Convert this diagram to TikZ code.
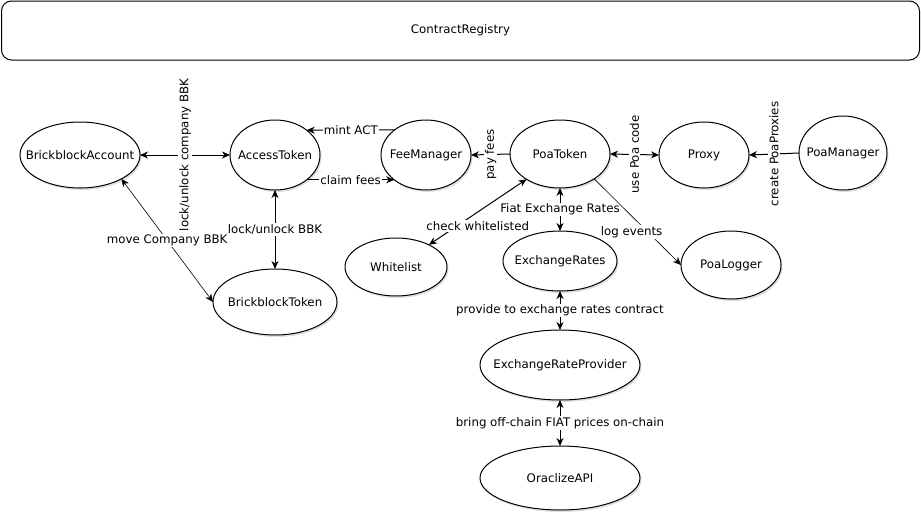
\documentclass[tikz,border=0pt]{standalone}
\usepackage{fontspec}
\setmainfont{DejaVu Sans}
\usetikzlibrary{arrows.meta,shapes.geometric,shadows}
\newcommand\ztext[1]{\makebox[0pt]{#1}}
\begin{document}
\begin{tikzpicture}[x=1pt,y=-1pt,
  every node/.style={font=\fontsize{11.8}{14}\selectfont, inner sep=0pt, outer sep=0pt},
  ell/.style={ellipse, draw, line width=1pt, fill=white,
    drop shadow={shadow xshift=1.5pt, shadow yshift=-2pt, opacity=0.25}},
  conn/.style={line width=1pt, -{Stealth[length=8pt,width=7pt,inset=2.5pt]}},
  both/.style={line width=1pt, {Stealth[length=8pt,width=7pt,inset=2.5pt]}-{Stealth[length=8pt,width=7pt,inset=2.5pt]}},
  thinline/.style={line width=0.6pt},
  lbl/.style={fill=white, inner sep=1pt},
]
\useasboundingbox (0,0) rectangle (921,514);

\node[draw, rounded corners=10pt, line width=1pt, minimum width=918pt, minimum height=59pt] (CR) at (460.5,30.5) {ContractRegistry};

\node[ell, minimum width=120pt, minimum height=66pt] (BA) at (80,155) {\ztext{BrickblockAccount}};
\node[ell, minimum width=90pt, minimum height=70pt] (AT) at (275,155) {\ztext{AccessToken}};
\node[ell, minimum width=124pt, minimum height=66pt] (BT) at (275,302) {\ztext{BrickblockToken}};
\node[ell, minimum width=90pt, minimum height=70pt] (FM) at (426,155) {\ztext{FeeManager}};
\node[ell, minimum width=100pt, minimum height=68pt] (PT) at (560,154) {\ztext{PoaToken}};
\node[ell, minimum width=90pt, minimum height=66pt] (PX) at (704,155) {\ztext{Proxy}};
\node[ell, minimum width=88pt, minimum height=74pt] (PM) at (843,153) {\ztext{PoaManager}};
\node[ell, minimum width=102pt, minimum height=58pt] (WL) at (396,267) {\ztext{Whitelist}};
\node[ell, minimum width=114pt, minimum height=60pt] (ER) at (560,261) {\ztext{ExchangeRates}};
\node[ell, minimum width=100pt, minimum height=68pt] (PL) at (731,265) {\ztext{PoaLogger}};
\node[ell, minimum width=160pt, minimum height=70pt] (ERP) at (560,365) {\ztext{ExchangeRateProvider}};
\node[ell, minimum width=160pt, minimum height=64pt] (OA) at (560,478) {\ztext{OraclizeAPI}};

\draw[both] (BA.east) -- node[lbl, rotate=90] {lock/unlock company BBK} (AT.west);
\draw[conn] (FM.141.6) -- node[lbl] {mint ACT} (AT.38.4);
\draw[conn] (AT.-38.4) -- node[lbl] {claim fees} (FM.218.4);
\draw[both] (AT.south) -- node[lbl] {lock/unlock BBK} (BT.north);
\draw[both, thinline] (BA.-30) -- node[lbl] {move Company BBK} (BT.west);
\draw[conn] (PT.west) -- node[lbl, rotate=90] {pay fees} (FM.east);
\draw[both] (PT.east) -- node[lbl, rotate=90] {use Poa code} (PX.west);
\draw[conn] (PM.west) -- node[lbl, rotate=90] {create PoaProxies} (PX.east);
\draw[both] (PT.217) -- node[lbl, yshift=-14pt] {check whitelisted} (WL.34);
\draw[both] (PT.south) -- node[lbl] {Fiat Exchange Rates} (ER.north);
\draw[conn, thinline] (PT.-36.6) -- node[lbl, xshift=-6pt, yshift=-10pt] {log events} (PL.west);
\draw[both] (ER.south) -- node[lbl] {provide to exchange rates contract} (ERP.north);
\draw[both] (ERP.south) -- node[lbl] {bring off-chain FIAT prices on-chain} (OA.north);
\end{tikzpicture}
\end{document}
